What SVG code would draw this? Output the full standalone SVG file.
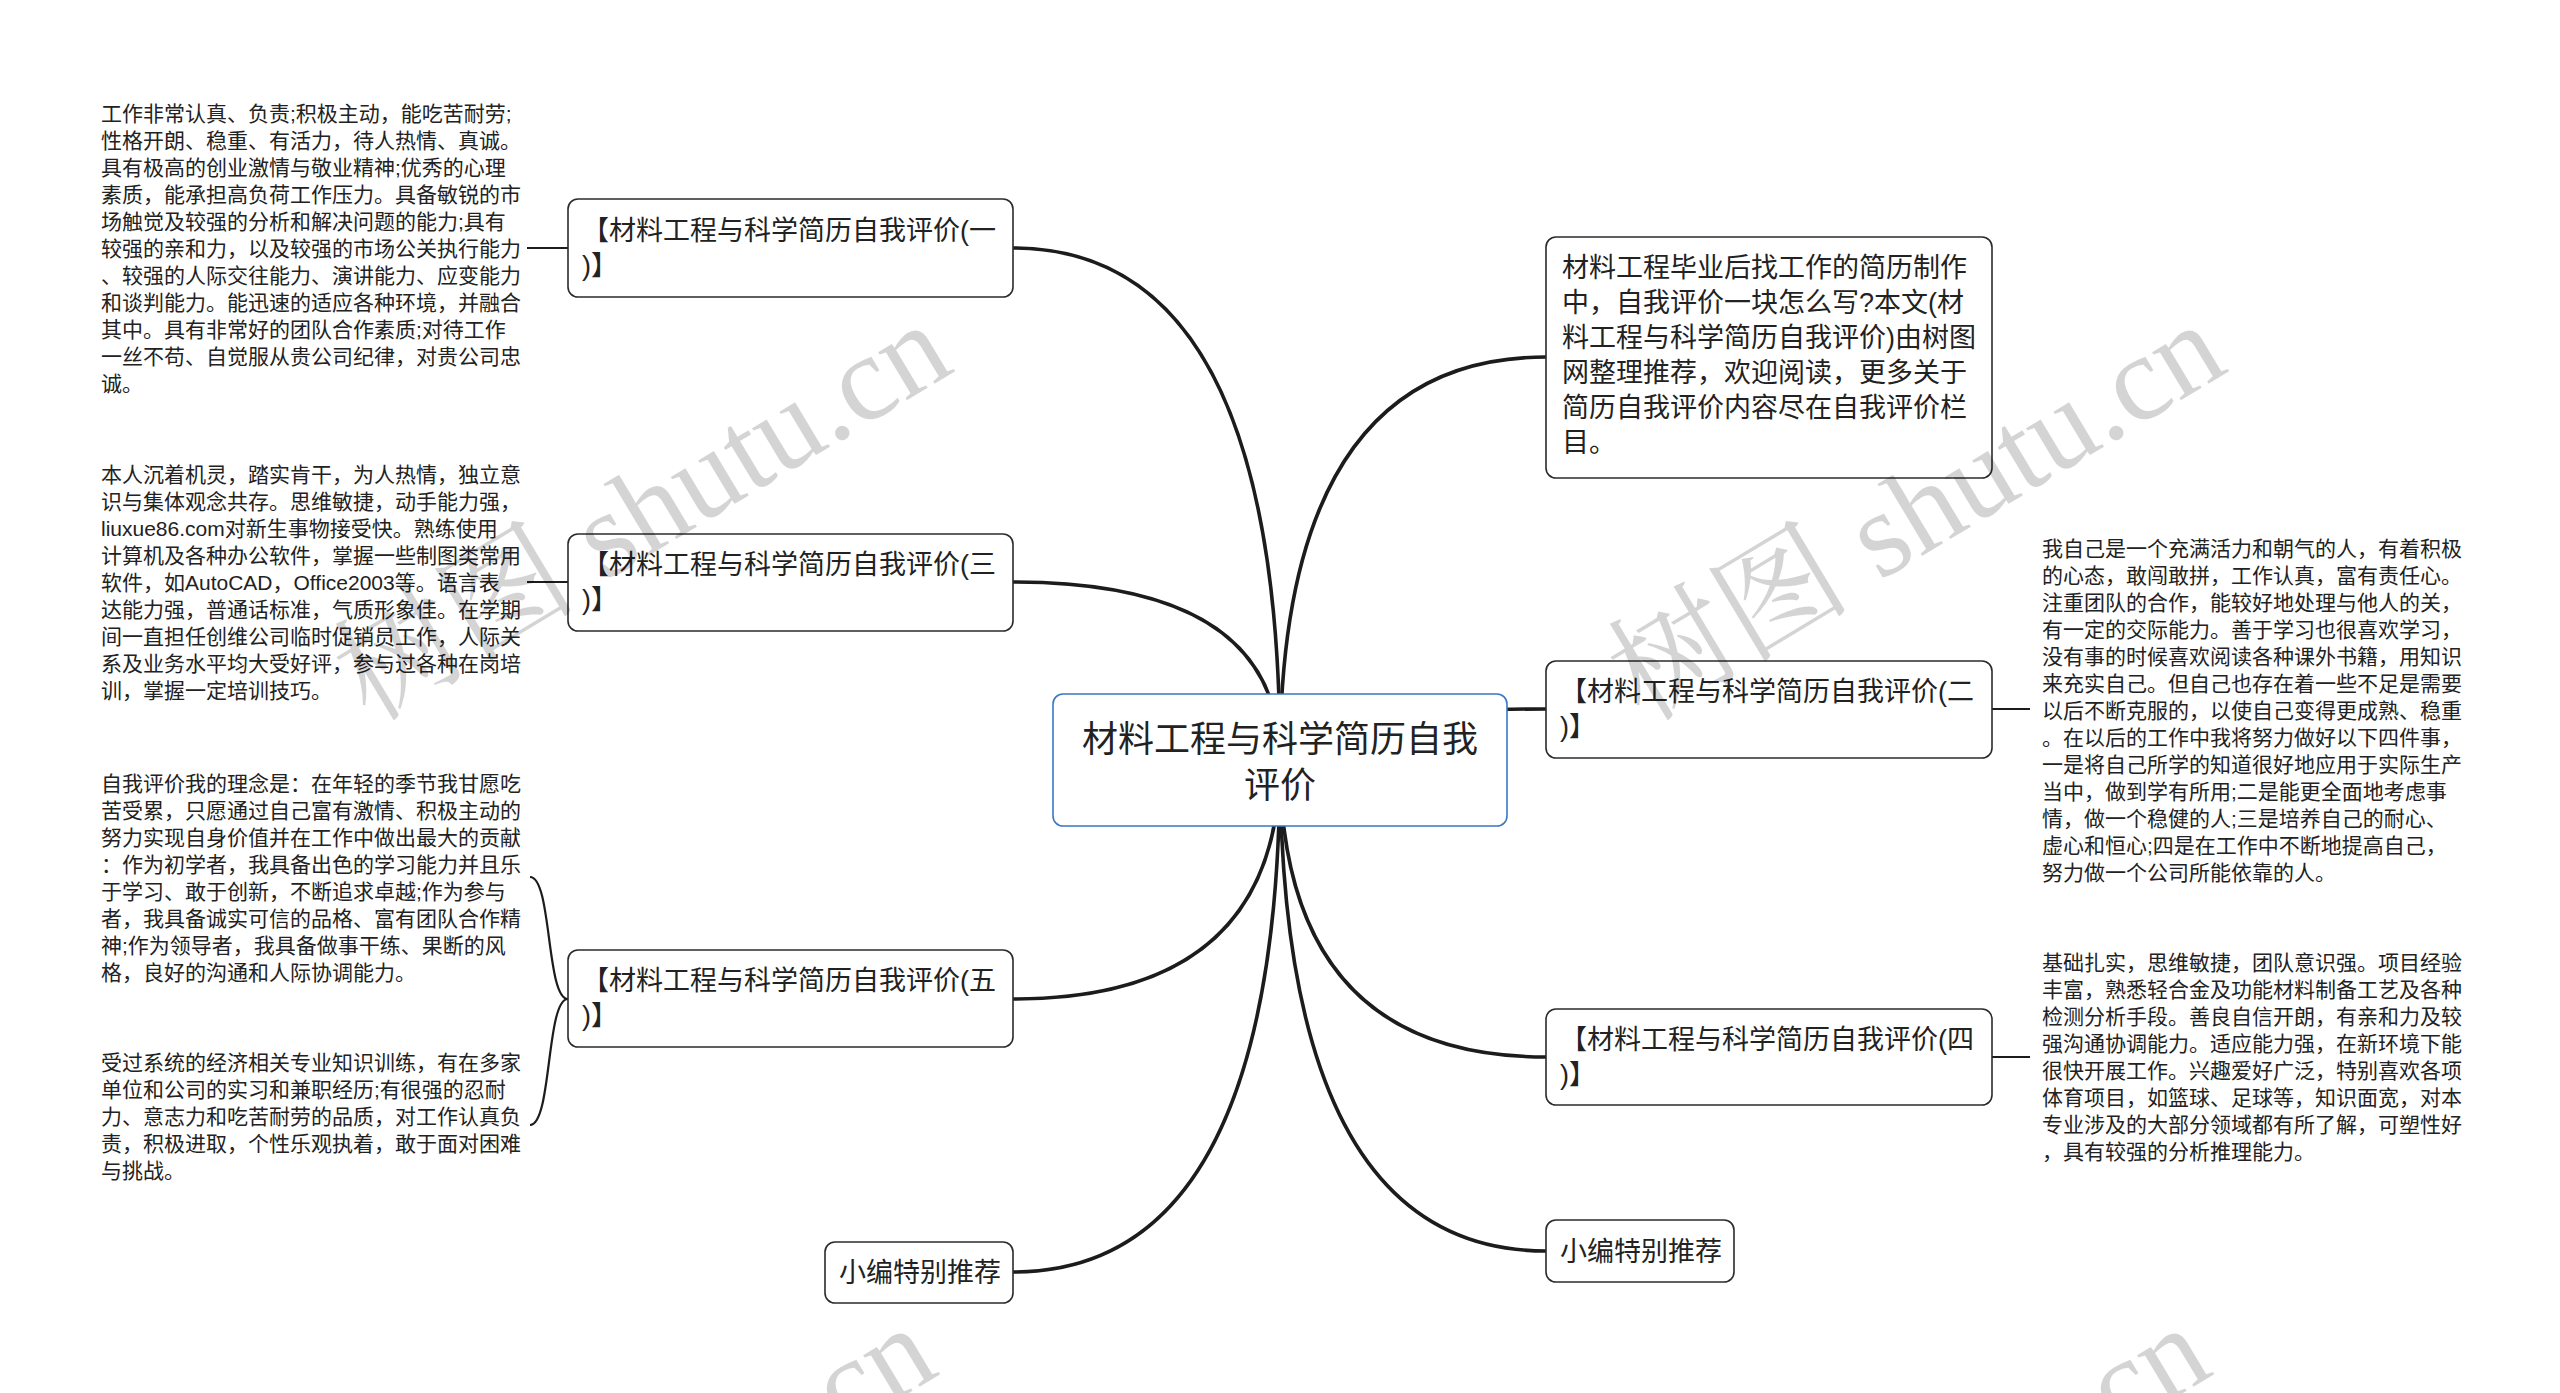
<svg xmlns="http://www.w3.org/2000/svg" width="2560" height="1393" viewBox="0 0 2560 1393">
<style>
  .box{fill:#fff;stroke:#2b2b2b;stroke-width:1.6}
  .root{fill:#fff;stroke:#3a78c4;stroke-width:1.6}
  .lbl{font-family:"Liberation Sans","Noto Sans CJK SC",sans-serif;font-size:27px;fill:#222}
  .rlbl{font-family:"Liberation Sans","Noto Sans CJK SC",sans-serif;font-size:36px;fill:#222;text-anchor:middle}
  .leaf{font-family:"Liberation Sans","Noto Sans CJK SC",sans-serif;font-size:21px;fill:#222}
  .br{fill:none;stroke:#1c1c1c;stroke-width:3.6;stroke-linecap:round}
  .lf{fill:none;stroke:#1c1c1c;stroke-width:2.2}
  .wm{font-family:"Liberation Serif","Noto Serif CJK SC","Noto Sans CJK SC",serif;font-size:122px;fill:#000;fill-opacity:0.17}
</style>
<rect width="2560" height="1393" fill="#fff"/>
<g id="connectors">
  <path class="br" d="M1280 760 Q1280 248 1013 248"/>
  <path class="br" d="M1280 760 Q1280 582 1013 582"/>
  <path class="br" d="M1280 760 Q1280 999 1013 999"/>
  <path class="br" d="M1280 760 Q1280 1272 1013 1272"/>
  <path class="br" d="M1280 760 Q1280 357 1546 357"/>
  <path class="br" d="M1280 760 Q1280 709 1546 709"/>
  <path class="br" d="M1280 760 Q1280 1057 1546 1057"/>
  <path class="br" d="M1280 760 Q1280 1251 1546 1251"/>
  <path class="lf" d="M527 248 L568 248"/>
  <path class="lf" d="M527 582 L568 582"/>
  <path class="lf" d="M568 999 C546 999 552 877 530 877"/>
  <path class="lf" d="M568 999 C546 999 552 1125 530 1125"/>
  <path class="lf" d="M1992 709 L2030 709"/>
  <path class="lf" d="M1992 1057 L2030 1057"/>
</g>
<g id="root">
  <rect class="root" x="1053" y="694" width="454" height="132" rx="10"/>
  <text class="rlbl" x="1280" y="752">材料工程与科学简历自我</text>
  <text class="rlbl" x="1280" y="798">评价</text>
</g>
<g id="n1">
  <rect class="box" x="568" y="199" width="445" height="98" rx="10"/>
  <text class="lbl" x="582" y="240">【材料工程与科学简历自我评价(一</text>
  <text class="lbl" x="582" y="275">)】</text>
</g>
<g id="n3">
  <rect class="box" x="568" y="534" width="445" height="97" rx="10"/>
  <text class="lbl" x="582" y="574">【材料工程与科学简历自我评价(三</text>
  <text class="lbl" x="582" y="609">)】</text>
</g>
<g id="n5">
  <rect class="box" x="568" y="950" width="445" height="97" rx="10"/>
  <text class="lbl" x="582" y="990">【材料工程与科学简历自我评价(五</text>
  <text class="lbl" x="582" y="1025">)】</text>
</g>
<g id="nL">
  <rect class="box" x="825" y="1242" width="188" height="61" rx="10"/>
  <text class="lbl" x="839" y="1282">小编特别推荐</text>
</g>
<g id="desc">
  <rect class="box" x="1546" y="237" width="446" height="241" rx="10"/>
  <text class="lbl" x="1562"><tspan x="1562" y="277">材料工程毕业后找工作的简历制作</tspan><tspan x="1562" y="312">中，自我评价一块怎么写?本文(材</tspan><tspan x="1562" y="347">料工程与科学简历自我评价)由树图</tspan><tspan x="1562" y="382">网整理推荐，欢迎阅读，更多关于</tspan><tspan x="1562" y="417">简历自我评价内容尽在自我评价栏</tspan><tspan x="1562" y="452">目。</tspan></text>
</g>
<g id="n2">
  <rect class="box" x="1546" y="661" width="446" height="97" rx="10"/>
  <text class="lbl" x="1560" y="701">【材料工程与科学简历自我评价(二</text>
  <text class="lbl" x="1560" y="736">)】</text>
</g>
<g id="n4">
  <rect class="box" x="1546" y="1009" width="446" height="96" rx="10"/>
  <text class="lbl" x="1560" y="1049">【材料工程与科学简历自我评价(四</text>
  <text class="lbl" x="1560" y="1084">)】</text>
</g>
<g id="nR">
  <rect class="box" x="1546" y="1220" width="188" height="62" rx="10"/>
  <text class="lbl" x="1560" y="1261">小编特别推荐</text>
</g>
<g id="leaf1">
  <text class="leaf"><tspan x="101" y="121">工作非常认真、负责;积极主动，能吃苦耐劳;</tspan><tspan x="101" y="148">性格开朗、稳重、有活力，待人热情、真诚。</tspan><tspan x="101" y="175">具有极高的创业激情与敬业精神;优秀的心理</tspan><tspan x="101" y="202">素质，能承担高负荷工作压力。具备敏锐的市</tspan><tspan x="101" y="229">场触觉及较强的分析和解决问题的能力;具有</tspan><tspan x="101" y="256">较强的亲和力，以及较强的市场公关执行能力</tspan><tspan x="101" y="283">、较强的人际交往能力、演讲能力、应变能力</tspan><tspan x="101" y="310">和谈判能力。能迅速的适应各种环境，并融合</tspan><tspan x="101" y="337">其中。具有非常好的团队合作素质;对待工作</tspan><tspan x="101" y="364">一丝不苟、自觉服从贵公司纪律，对贵公司忠</tspan><tspan x="101" y="391">诚。</tspan></text>
</g>
<g id="leaf3">
  <text class="leaf"><tspan x="101" y="482">本人沉着机灵，踏实肯干，为人热情，独立意</tspan><tspan x="101" y="509">识与集体观念共存。思维敏捷，动手能力强，</tspan><tspan x="101" y="536">liuxue86.com对新生事物接受快。熟练使用</tspan><tspan x="101" y="563">计算机及各种办公软件，掌握一些制图类常用</tspan><tspan x="101" y="590">软件，如AutoCAD，Office2003等。语言表</tspan><tspan x="101" y="617">达能力强，普通话标准，气质形象佳。在学期</tspan><tspan x="101" y="644">间一直担任创维公司临时促销员工作，人际关</tspan><tspan x="101" y="671">系及业务水平均大受好评，参与过各种在岗培</tspan><tspan x="101" y="698">训，掌握一定培训技巧。</tspan></text>
</g>
<g id="leaf5a">
  <text class="leaf"><tspan x="101" y="791">自我评价我的理念是：在年轻的季节我甘愿吃</tspan><tspan x="101" y="818">苦受累，只愿通过自己富有激情、积极主动的</tspan><tspan x="101" y="845">努力实现自身价值并在工作中做出最大的贡献</tspan><tspan x="101" y="872">：作为初学者，我具备出色的学习能力并且乐</tspan><tspan x="101" y="899">于学习、敢于创新，不断追求卓越;作为参与</tspan><tspan x="101" y="926">者，我具备诚实可信的品格、富有团队合作精</tspan><tspan x="101" y="953">神;作为领导者，我具备做事干练、果断的风</tspan><tspan x="101" y="980">格，良好的沟通和人际协调能力。</tspan></text>
</g>
<g id="leaf5b">
  <text class="leaf"><tspan x="101" y="1070">受过系统的经济相关专业知识训练，有在多家</tspan><tspan x="101" y="1097">单位和公司的实习和兼职经历;有很强的忍耐</tspan><tspan x="101" y="1124">力、意志力和吃苦耐劳的品质，对工作认真负</tspan><tspan x="101" y="1151">责，积极进取，个性乐观执着，敢于面对困难</tspan><tspan x="101" y="1178">与挑战。</tspan></text>
</g>
<g id="leaf2">
  <text class="leaf"><tspan x="2042" y="556">我自己是一个充满活力和朝气的人，有着积极</tspan><tspan x="2042" y="583">的心态，敢闯敢拼，工作认真，富有责任心。</tspan><tspan x="2042" y="610">注重团队的合作，能较好地处理与他人的关，</tspan><tspan x="2042" y="637">有一定的交际能力。善于学习也很喜欢学习，</tspan><tspan x="2042" y="664">没有事的时候喜欢阅读各种课外书籍，用知识</tspan><tspan x="2042" y="691">来充实自己。但自己也存在着一些不足是需要</tspan><tspan x="2042" y="718">以后不断克服的，以使自己变得更成熟、稳重</tspan><tspan x="2042" y="745">。在以后的工作中我将努力做好以下四件事，</tspan><tspan x="2042" y="772">一是将自己所学的知道很好地应用于实际生产</tspan><tspan x="2042" y="799">当中，做到学有所用;二是能更全面地考虑事</tspan><tspan x="2042" y="826">情，做一个稳健的人;三是培养自己的耐心、</tspan><tspan x="2042" y="853">虚心和恒心;四是在工作中不断地提高自己，</tspan><tspan x="2042" y="880">努力做一个公司所能依靠的人。</tspan></text>
</g>
<g id="leaf4">
  <text class="leaf"><tspan x="2042" y="970">基础扎实，思维敏捷，团队意识强。项目经验</tspan><tspan x="2042" y="997">丰富，熟悉轻合金及功能材料制备工艺及各种</tspan><tspan x="2042" y="1024">检测分析手段。善良自信开朗，有亲和力及较</tspan><tspan x="2042" y="1051">强沟通协调能力。适应能力强，在新环境下能</tspan><tspan x="2042" y="1078">很快开展工作。兴趣爱好广泛，特别喜欢各项</tspan><tspan x="2042" y="1105">体育项目，如篮球、足球等，知识面宽，对本</tspan><tspan x="2042" y="1132">专业涉及的大部分领域都有所了解，可塑性好</tspan><tspan x="2042" y="1159">，具有较强的分析推理能力。</tspan></text>
</g>
<g id="watermarks">
  <text class="wm" transform="translate(370,723) rotate(-31)">树图 shutu.cn</text>
  <text class="wm" transform="translate(1644,723) rotate(-31)">树图 shutu.cn</text>
  <text class="wm" transform="translate(355,1726) rotate(-31)">树图 shutu.cn</text>
  <text class="wm" transform="translate(1629,1726) rotate(-31)">树图 shutu.cn</text>
</g>
</svg>
